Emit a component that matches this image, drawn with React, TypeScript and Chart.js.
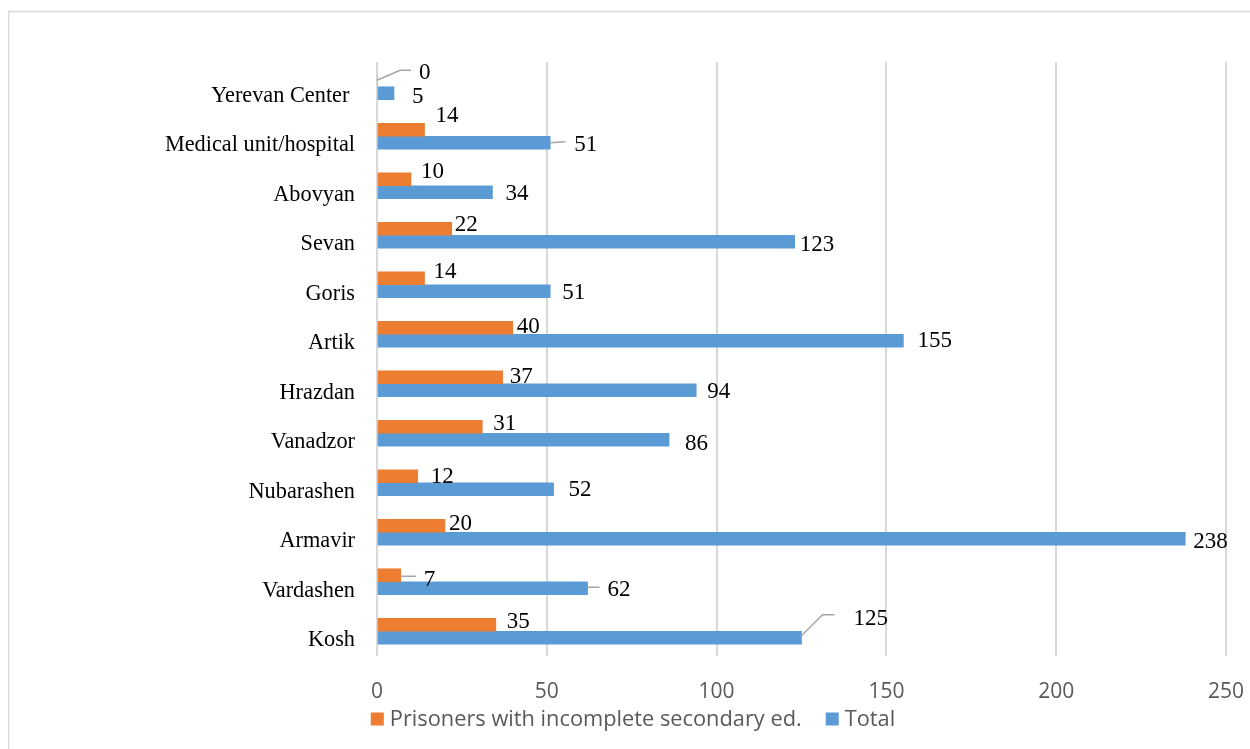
import { useEffect, useRef } from "react";
import { Chart, registerables } from "chart.js";

Chart.register(...registerables);

// ---- data ----
const categories = [
  "Yerevan Center ",
  "Medical unit/hospital",
  "Abovyan",
  "Sevan",
  "Goris",
  "Artik",
  "Hrazdan",
  "Vanadzor",
  "Nubarashen",
  "Armavir",
  "Vardashen",
  "Kosh",
];
const incompleteSecondary = [0, 14, 10, 22, 14, 40, 37, 31, 12, 20, 7, 35];
const totalPrisoners = [5, 51, 34, 123, 51, 155, 94, 86, 52, 238, 62, 125];
const seriesNames = ["Prisoners with incomplete secondary ed.", "Total"];
const axisMin = 0;
const axisMax = 250;
const axisStep = 50;

// ---- styling / label placement (layout, not data) ----
const CANVAS_W = 1242;
const CANVAS_H = 741;
const seriesColors = ["#ED7D31", "#5B9BD5"];
type Placement = { gap: number; dy: number; leader?: number[][] };
const orangePlacement: Placement[] = [
  { gap: 42, dy: -9, leader: [[0, 0], [23, -10], [34, -10]] },
  { gap: 11, dy: -16 },
  { gap: 10, dy: -9.5 },
  { gap: 3, dy: -6 },
  { gap: 9, dy: -8 },
  { gap: 4, dy: -3 },
  { gap: 7, dy: -2 },
  { gap: 11, dy: -5 },
  { gap: 13, dy: -1 },
  { gap: 4, dy: -4 },
  { gap: 23, dy: 2.5, leader: [[0, 1], [15, 1]] },
  { gap: 11, dy: -5 },
];
const bluePlacement: Placement[] = [
  { gap: 18, dy: 1.5 },
  { gap: 24, dy: 0, leader: [[0, 0], [15, -1]] },
  { gap: 13, dy: 0 },
  { gap: 5, dy: 1 },
  { gap: 12, dy: 0 },
  { gap: 14, dy: -1.5 },
  { gap: 11, dy: 0 },
  { gap: 16, dy: 2 },
  { gap: 15, dy: -1.5 },
  { gap: 8, dy: 1 },
  { gap: 20, dy: 0, leader: [[0, -1], [12, -1]] },
  { gap: 52, dy: -21, leader: [[0, -2], [21, -23], [33, -23]] },
];
const placements = [orangePlacement, bluePlacement];

const LABEL_FONT_SIZE = 23;
const LEGEND_FONT_SIZE = 21.8;

const dataLabelPlugin = {
  id: "dataLabels",
  afterDatasetsDraw(chart: any) {
    const ctx = chart.ctx as CanvasRenderingContext2D;
    ctx.save();
    ctx.font = `${LABEL_FONT_SIZE}px "Liberation Serif"`;
    ctx.fillStyle = "#000000";
    ctx.textAlign = "left";
    ctx.textBaseline = "alphabetic";
    chart.data.datasets.forEach((ds: any, di: number) => {
      const meta = chart.getDatasetMeta(di);
      meta.data.forEach((el: any, i: number) => {
        const { x, y } = el.getProps(["x", "y"], true);
        const p = placements[di][i];
        if (p.leader) {
          ctx.beginPath();
          ctx.strokeStyle = "#A6A6A6";
          ctx.lineWidth = 1.5;
          p.leader.forEach((pt, k) => {
            if (k === 0) ctx.moveTo(x + pt[0], y + pt[1]);
            else ctx.lineTo(x + pt[0], y + pt[1]);
          });
          ctx.stroke();
        }
        ctx.fillText(String(ds.data[i]), x + p.gap, y + p.dy + 0.34 * LABEL_FONT_SIZE);
      });
    });
    ctx.restore();
  },
};

const legendPlugin = {
  id: "customLegend",
  afterDraw(chart: any) {
    const ctx = chart.ctx as CanvasRenderingContext2D;
    ctx.save();
    ctx.font = `${LEGEND_FONT_SIZE}px "Open Sans"`;
    ctx.textAlign = "left";
    ctx.textBaseline = "alphabetic";
    const box = 13;
    const boxGap = 6;
    const itemGap = 24;
    const items = chart.data.datasets.map((ds: any) => ({
      text: ds.label as string,
      color: ds.backgroundColor as string,
      w: box + boxGap + ctx.measureText(ds.label).width,
    }));
    const totalW =
      items.reduce((s: number, it: any) => s + it.w, 0) + itemGap * (items.length - 1);
    const centerX = 625;
    const cy = 711;
    let x = centerX - totalW / 2;
    items.forEach((it: any) => {
      ctx.fillStyle = it.color;
      ctx.fillRect(x, cy - box / 2, box, box);
      ctx.fillStyle = "#595959";
      ctx.fillText(it.text, x + box + boxGap, cy - 1 + 0.357 * LEGEND_FONT_SIZE);
      x += it.w + itemGap;
    });
    ctx.restore();
  },
};

const framePlugin = {
  id: "frame",
  beforeDraw(chart: any) {
    const ctx = chart.ctx as CanvasRenderingContext2D;
    ctx.save();
    ctx.fillStyle = "#ffffff";
    ctx.fillRect(0, 0, chart.width, chart.height);
    ctx.strokeStyle = "#D9D9D9";
    ctx.lineWidth = 1.5;
    ctx.beginPath();
    ctx.moveTo(0.5, chart.height + 5);
    ctx.lineTo(0.5, 3.5);
    ctx.lineTo(chart.width + 5, 3.5);
    ctx.stroke();
    ctx.restore();
  },
};

export default function App() {
  const canvasRef = useRef<HTMLCanvasElement | null>(null);

  useEffect(() => {
    if (!canvasRef.current) return;
    const prevOverflow = document.body.style.overflow;
    const prevMargin = document.body.style.margin;
    document.body.style.overflow = "hidden";
    document.body.style.margin = "0";
    const chart = new Chart(canvasRef.current, {
      type: "bar",
      data: {
        labels: categories,
        datasets: [
          {
            label: seriesNames[0],
            data: incompleteSecondary,
            backgroundColor: seriesColors[0],
            barThickness: 13,
          },
          {
            label: seriesNames[1],
            data: totalPrisoners,
            backgroundColor: seriesColors[1],
            barThickness: 13,
          },
        ],
      },
      options: {
        indexAxis: "y",
        animation: false,
        responsive: false,
        devicePixelRatio: 1,
        layout: { padding: { top: 54, right: 24, bottom: 0, left: 0 } },
        plugins: {
          legend: { display: false },
          tooltip: { enabled: false },
          title: { display: false },
        },
        scales: {
          x: {
            min: axisMin,
            max: axisMax,
            ticks: {
              stepSize: axisStep,
              color: "#595959",
              font: { family: "'Open Sans'", size: 21 },
              padding: 0,
            },
            grid: {
              color: "#D9D9D9",
              lineWidth: 2,
              drawTicks: true,
              tickLength: 23,
              tickColor: "rgba(0,0,0,0)",
            },
            border: { display: false },
            afterFit: (scale: any) => {
              scale.height = CANVAS_H - 648;
            },
          },
          y: {
            ticks: {
              color: "#000000",
              font: { family: "'Liberation Serif'", size: 22.3 },
              padding: 22,
              labelOffset: 9,
              autoSkip: false,
            },
            grid: { display: false, drawTicks: false },
            border: { display: false },
            afterFit: (scale: any) => {
              scale.width = 369;
            },
          },
        },
      },
      plugins: [framePlugin, dataLabelPlugin, legendPlugin],
    });
    return () => {
      chart.destroy();
      document.body.style.overflow = prevOverflow;
      document.body.style.margin = prevMargin;
    };
  }, []);

  return (
    <div style={{ width: CANVAS_W + 8, height: CANVAS_H + 8, padding: "8px 0 0 8px", boxSizing: "border-box" }}>
      <canvas
        ref={canvasRef}
        width={CANVAS_W}
        height={CANVAS_H}
        style={{ display: "block", width: CANVAS_W, height: CANVAS_H }}
      />
    </div>
  );
}
